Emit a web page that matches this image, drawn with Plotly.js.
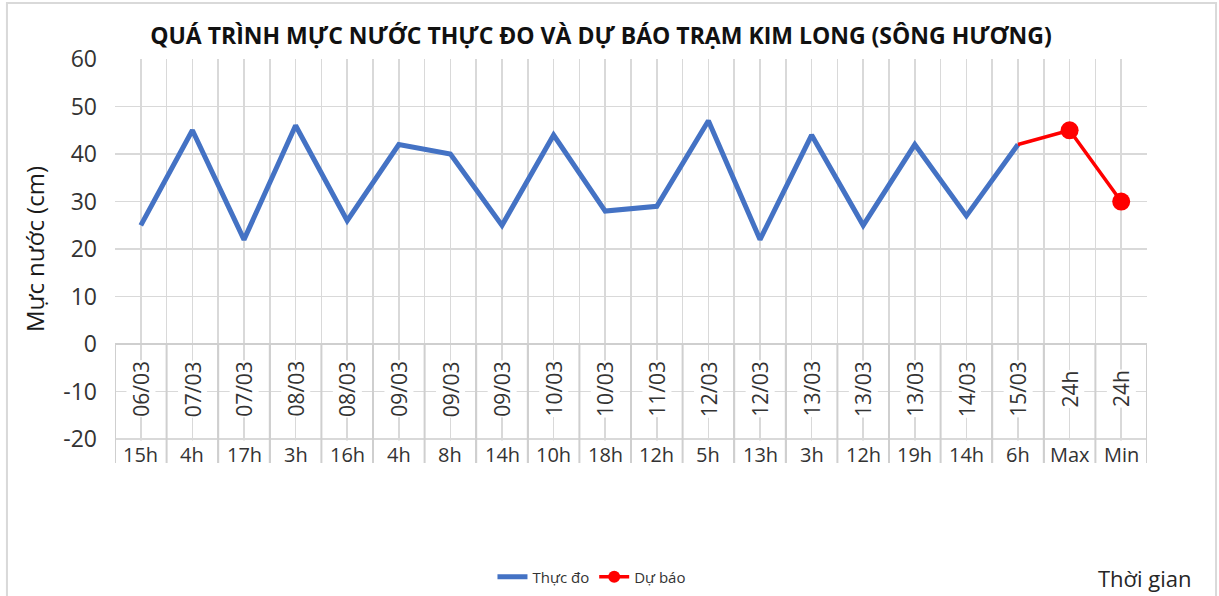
<!DOCTYPE html>
<html>
<head>
<meta charset="utf-8">
<script src="https://cdn.plot.ly/plotly-3.0.1.min.js"></script>
<style>
html,body{margin:0;padding:0;background:#fff;}
#chart{width:1219px;height:596px;}
</style>
</head>
<body>
<div id="chart"></div>
<script>
// ---- data ----
var dateLabels = ['06/03','07/03','07/03','08/03','08/03','09/03','09/03','09/03','10/03','10/03',
                  '11/03','12/03','12/03','13/03','13/03','13/03','14/03','15/03','24h','24h'];
var hourLabels = ['15h','4h','17h','3h','16h','4h','8h','14h','10h','18h',
                  '12h','5h','13h','3h','12h','19h','14h','6h','Max','Min'];
var measured = [25,45,22,46,26,42,40,25,44,28,29,47,22,44,25,42,27,42];   // Thực đo
var forecast = [42,45,30];                                                // Dự báo (15/03 6h, Max, Min)
var yTicks = [-20,-10,0,10,20,30,40,50,60];

var titleText = 'QUÁ TRÌNH MỰC NƯỚC THỰC ĐO VÀ DỰ BÁO TRẠM KIM LONG (SÔNG HƯƠNG)';
var yTitle = 'Mực nước (cm)';
var xTitle = 'Thời gian';

// ---- build ----
var idx = hourLabels.map(function(_, i){ return i; });
var measX = idx.slice(0, measured.length);
var fcStart = measured.length - 1;
var fcX = idx.slice(fcStart, fcStart + forecast.length);

var FONT = 'Open Sans, sans-serif';
var TXT = '#333333';
var GRID = '#d9d9d9';

var traces = [
  {x: measX, y: measured, type: 'scatter', mode: 'lines', name: 'Thực đo',
   line: {color: '#4472C4', width: 5}, hoverinfo: 'x+y'},
  {x: fcX, y: forecast, type: 'scatter', mode: 'lines+markers', name: 'Dự báo',
   line: {color: '#FF0000', width: 3.5},
   marker: {color: '#FF0000', opacity: 1, line: {width: 0},
            size: forecast.map(function(v, i){ return i === 0 ? 0 : 18; })}}
];

var annotations = [];
idx.forEach(function(i){
  annotations.push({x: i, y: -9.4, xref: 'x', yref: 'y', text: dateLabels[i], textangle: -90,
    showarrow: false, bgcolor: '#ffffff', borderpad: 0, font: {family: FONT, size: 21, color: TXT}});
  annotations.push({x: i, y: -23.2, xref: 'x', yref: 'y', text: hourLabels[i],
    showarrow: false, bgcolor: '#ffffff', borderpad: 0, font: {family: FONT, size: 20, color: TXT}});
});
annotations.push({x: -0.0785, y: 20, xref: 'paper', yref: 'y', text: yTitle, textangle: -90,
  xanchor: 'center', yanchor: 'middle',
  showarrow: false, font: {family: FONT, size: 24, color: '#1a1a1a'}});
annotations.push({x: 0.998, y: -0.285, xref: 'paper', yref: 'paper', text: xTitle, xanchor: 'center', yanchor: 'middle',
  showarrow: false, font: {family: FONT, size: 22, color: '#262626'}});

var shapes = [];
for (var b = 0; b <= idx.length; b++) {
  shapes.push({type: 'line', xref: 'x', yref: 'y', x0: b - 0.5, x1: b - 0.5, y0: 0, y1: -25,
    line: {color: '#cfcfcf', width: 2}, layer: 'above'});
}
// outer chart border
shapes.push({type: 'rect', xref: 'paper', yref: 'paper', x0: -0.1047, x1: 1.0669, y0: -0.35, y1: 1.1386,
  line: {color: '#d9d9d9', width: 2}, fillcolor: 'rgba(0,0,0,0)', layer: 'below'});

var layout = {
  width: 1219, height: 596,
  margin: {l: 115, r: 72, t: 59, b: 133, pad: 0},
  paper_bgcolor: '#ffffff', plot_bgcolor: '#ffffff',
  font: {family: FONT, color: TXT},
  title: {text: '<b>' + titleText + '</b>', x: 0.493, xanchor: 'center', y: 0.94, yanchor: 'middle',
          font: {family: FONT, size: 23, color: '#111111'}},
  xaxis: {range: [-0.5, idx.length - 0.5], tick0: -0.5, dtick: 0.5, showticklabels: false,
          showgrid: true, gridcolor: GRID, gridwidth: 1.5, zeroline: false, showline: false, ticks: '', fixedrange: true},
  yaxis: {range: [-25, 60], tickvals: yTicks, ticktext: yTicks.map(String), showgrid: true, gridcolor: GRID, gridwidth: 1.5,
          zeroline: true, zerolinecolor: '#cfcfcf', zerolinewidth: 2, showline: false, ticks: '',
          ticklabelstandoff: 17, tickfont: {family: FONT, size: 23, color: TXT}, fixedrange: true},
  showlegend: true,
  legend: {orientation: 'h', xref: 'container', yref: 'container', x: 0.404, xanchor: 'left',
           y: 0.032, yanchor: 'middle',
           font: {family: FONT, size: 15, color: TXT}, bgcolor: 'rgba(0,0,0,0)'},
  annotations: annotations,
  shapes: shapes
};

Plotly.newPlot('chart', traces, layout, {displayModeBar: false, staticPlot: true});
</script>
</body>
</html>
